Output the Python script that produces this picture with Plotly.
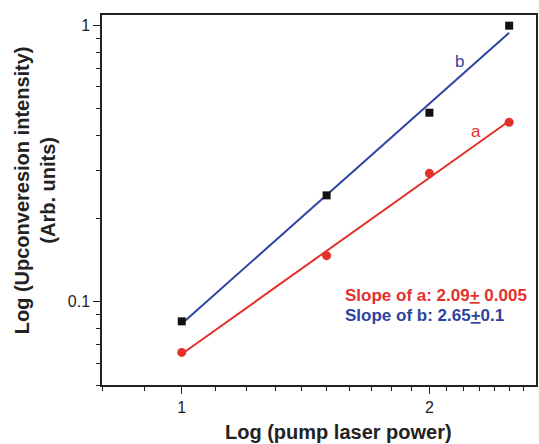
import numpy as np
import plotly.graph_objects as go

power = [1.0, 1.5, 2.0, 2.5]
intensity_a = [0.0656, 0.147, 0.292, 0.447]
intensity_b = [0.085, 0.243, 0.484, 1.0]
x_ticks = [1, 2]
y_ticks = [0.1, 1]
x_minor = [0.8, 0.9, 1.1, 1.2, 1.3, 1.4, 1.5, 1.6, 1.7, 1.8, 1.9, 2.1, 2.2, 2.3, 2.4, 2.5, 2.6]
y_minor = [0.05, 0.06, 0.07, 0.08, 0.09, 0.2, 0.3, 0.4, 0.5, 0.6, 0.7, 0.8, 0.9]

RED = "#e3302b"
BLUE = "#2e43a0"
FONT = "Liberation Sans, Arial"

def fit(xs, ys):
    lx, ly = np.log10(xs), np.log10(ys)
    m, c = np.polyfit(lx, ly, 1)
    xf = np.array([xs[0], xs[-1]])
    return xf, 10 ** (m * np.log10(xf) + c)

fig = go.Figure()
xa, ya = fit(power, intensity_a)
xb, yb = fit(power, intensity_b)
fig.add_trace(go.Scatter(x=xa, y=ya, mode="lines", line=dict(color=RED, width=2), showlegend=False))
fig.add_trace(go.Scatter(x=xb, y=yb, mode="lines", line=dict(color=BLUE, width=2), showlegend=False))
fig.add_trace(go.Scatter(x=power, y=intensity_a, mode="markers",
                         marker=dict(symbol="circle", size=9, color=RED), showlegend=False))
fig.add_trace(go.Scatter(x=power, y=intensity_b, mode="markers",
                         marker=dict(symbol="square", size=8, color="#111111"), showlegend=False))

axis_common = dict(showgrid=False, zeroline=False, showline=True, linecolor="#222", linewidth=1.5,
                   mirror=True, ticks="outside", ticklen=7, tickwidth=1.2, tickcolor="#222",
                   tickfont=dict(family=FONT, size=16, color="#222"))

fig.update_xaxes(type="log", range=[np.log10(0.8), np.log10(2.695)], tickmode="array",
                 tickvals=x_ticks, ticktext=[str(v) for v in x_ticks],
                 minor=dict(tickmode="array", tickvals=x_minor, ticks="outside", ticklen=4,
                            tickwidth=1.2, tickcolor="#222"),
                 **axis_common)
fig.update_yaxes(type="log", range=[np.log10(0.05), np.log10(1.093)], tickmode="array",
                 tickvals=y_ticks, ticktext=["0.1", "1"],
                 minor=dict(tickmode="array", tickvals=y_minor, ticks="outside", ticklen=4,
                            tickwidth=1.2, tickcolor="#222"),
                 **axis_common)

annots = [
    dict(x=0.823, y=0.873, text="b", color=BLUE, size=17, xanchor="center", angle=0),
    dict(x=0.862, y=0.684, text="a", color=RED, size=17, xanchor="center", angle=0),
    dict(x=0.555, y=0.243, text="<b>Slope of a: 2.09<u>+</u> 0.005</b>", color=RED, size=17, xanchor="left", angle=0),
    dict(x=0.555, y=0.189, text="<b>Slope of b: 2.65<u>+</u>0.1</b>", color=BLUE, size=17, xanchor="left", angle=0),
    dict(x=0.546, y=-0.127, text="<b>Log (pump laser power)</b>", color="#222", size=20, xanchor="center", angle=0),
    dict(x=-0.1537, y=0.527, text="<b>Log (Upconveresion intensity)<br>(Arb. units)</b>", color="#222", size=20,
         xanchor="center", angle=-90),
]
for a in annots:
    fig.add_annotation(x=a["x"], y=a["y"], xref="paper", yref="paper", text=a["text"], showarrow=False,
                       xanchor=a["xanchor"], yanchor="middle", textangle=a["angle"],
                       font=dict(family=FONT, size=a["size"], color=a["color"]))

fig.update_layout(width=539, height=444, margin=dict(l=102, r=1, t=15, b=59),
                  plot_bgcolor="white", paper_bgcolor="white")
fig.write_html("out.html")
